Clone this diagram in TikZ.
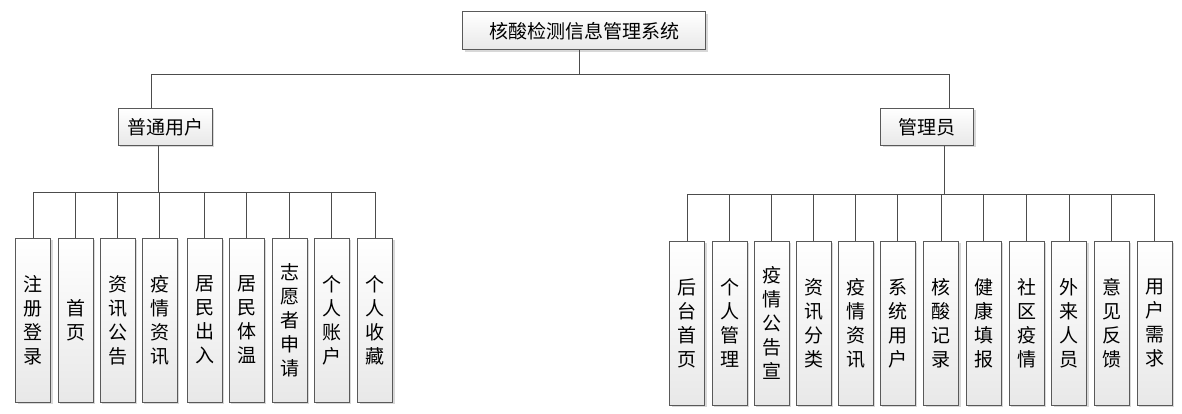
\documentclass[tikz,border=0pt]{standalone}
\usepackage{fontspec}
\setmainfont{Noto Sans CJK SC}
\usepackage{tikz}
\usetikzlibrary{positioning, shadows, calc}

\begin{document}
\begin{tikzpicture}[
    x=1pt, y=-1pt,
    box/.style={rectangle, draw=black!65, line width=1pt, top color=white, bottom color=black!9, drop shadow={shadow xshift=2pt, shadow yshift=-2pt, fill=black!30, opacity=0.5}, inner sep=0pt, font=\fontsize{19}{24}\selectfont},
    leaf/.style={box, minimum width=35pt, minimum height=164pt, align=center},
    link/.style={draw=black!70, line width=1pt}
]
\useasboundingbox (0,0) rectangle (1182,414);

% Top levels
\node[box, minimum width=243pt, minimum height=38pt] (sys) at (584,31) {核酸检测信息管理系统};
\node[box, minimum width=94pt, minimum height=37pt] (user) at (165,127) {普通用户};
\node[box, minimum width=93pt, minimum height=37pt] (admin) at (927,127) {管理员};

% User functions
\foreach \x/\t [count=\i] in {33/{注\\册\\登\\录}, 75.5/{首\\页}, 117.5/{资\\讯\\公\\告}, 159.5/{疫\\情\\资\\讯}, 204.5/{居\\民\\出\\入}, 246.5/{居\\民\\体\\温}, 289.5/{志\\愿\\者\\申\\请}, 331.5/{个\\人\\账\\户}, 375/{个\\人\\收\\藏}} {
    \node[leaf] (u\i) at (\x,320) {\t};
}

% Admin functions
\foreach \x/\t [count=\i] in {687/{后\\台\\首\\页}, 729.5/{个\\人\\管\\理}, 771.5/{疫\\情\\公\\告\\宣}, 813.5/{资\\讯\\分\\类}, 855.5/{疫\\情\\资\\讯}, 897.5/{系\\统\\用\\户}, 941/{核\\酸\\记\\录}, 983.5/{健\\康\\填\\报}, 1026.5/{社\\区\\疫\\情}, 1069/{外\\来\\人\\员}, 1111.5/{意\\见\\反\\馈}, 1154.5/{用\\户\\需\\求}} {
    \node[leaf] (a\i) at (\x,323) {\t};
}

% Connectors
\coordinate (sysbar) at (579,75);
\coordinate (ubar) at (158,192);
\coordinate (abar) at (944,194);
\draw[link] ([xshift=-5pt]sys.south) -- (sysbar);
\draw[link] (sysbar) -| ([xshift=-14pt]user.north);
\draw[link] (sysbar) -| ([xshift=22pt]admin.north);
\draw[link] ([xshift=-7pt]user.south) -- (ubar);
\draw[link] ([xshift=17pt]admin.south) -- (abar);
\foreach \i in {1,...,9} {
    \draw[link] (ubar) -| (u\i.north);
}
\foreach \i in {1,...,12} {
    \draw[link] (abar) -| (a\i.north);
}
\end{tikzpicture}
\end{document}
